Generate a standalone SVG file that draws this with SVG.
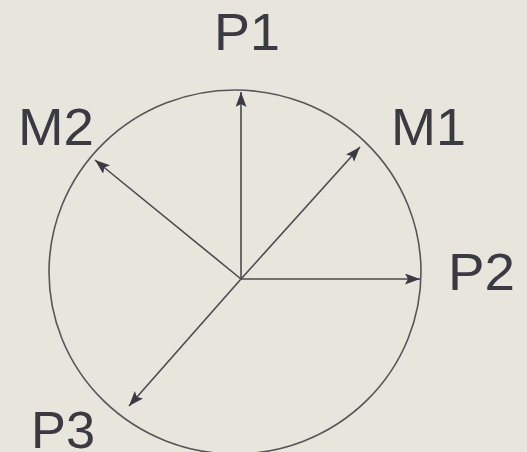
<svg xmlns="http://www.w3.org/2000/svg" width="527" height="452" viewBox="0 0 527 452">
<style>
.lbl{font-family:"Liberation Sans",Arial,sans-serif;font-size:52px;fill:#3a3a42}
.ax{stroke:#4a4a50;stroke-width:1.6;fill:none}
</style>
<defs>
<marker id="ah" markerUnits="userSpaceOnUse" markerWidth="16" markerHeight="12" refX="15" refY="5.5" orient="auto">
<path d="M0,0 L15,5.5 L0,11 L3,5.5 z" fill="#3a3a44"/>
</marker>
</defs>
<rect width="527" height="452" fill="#e8e6dc"/>
<g id="circle"><ellipse cx="235" cy="272" rx="186" ry="182" fill="none" stroke="#55555a" stroke-width="1.6"/></g>
<g id="connectors">
<line class="ax" x1="241" y1="279" x2="241" y2="92" marker-end="url(#ah)"/>
<line class="ax" x1="241" y1="279" x2="420" y2="279" stroke="#222" marker-end="url(#ah)"/>
<line class="ax" x1="241" y1="279" x2="360" y2="147" marker-end="url(#ah)"/>
<line class="ax" x1="241" y1="279" x2="95" y2="160" marker-end="url(#ah)"/>
<line class="ax" x1="241" y1="279" x2="129" y2="406" marker-end="url(#ah)"/>
</g>
<g id="P1"><text class="lbl" x="214" y="50" textLength="66" lengthAdjust="spacingAndGlyphs">P1</text></g>
<g id="M2"><text class="lbl" x="18" y="145" textLength="76" lengthAdjust="spacingAndGlyphs">M2</text></g>
<g id="M1"><text class="lbl" x="391" y="145" textLength="75" lengthAdjust="spacingAndGlyphs">M1</text></g>
<g id="P2"><text class="lbl" x="448" y="290" textLength="67" lengthAdjust="spacingAndGlyphs">P2</text></g>
<g id="P3"><text class="lbl" x="31" y="448" textLength="64" lengthAdjust="spacingAndGlyphs">P3</text></g>
</svg>
